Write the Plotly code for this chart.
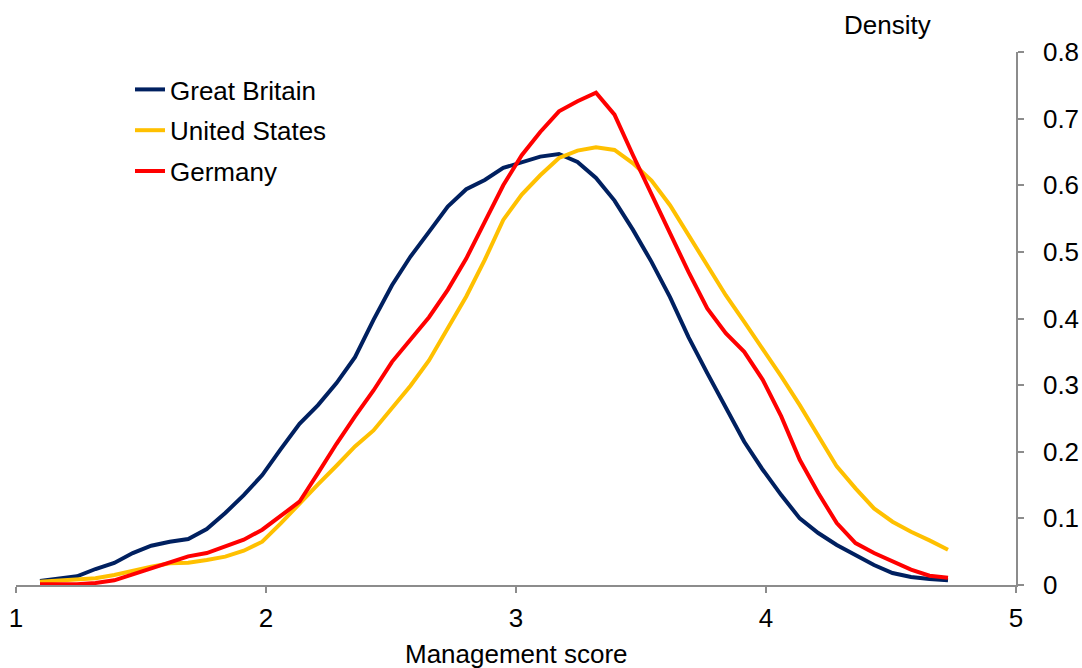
import plotly.graph_objects as go

x_scores = [1.096, 1.170, 1.244, 1.318, 1.393, 1.467, 1.541, 1.615, 1.689, 1.763,
            1.837, 1.911, 1.985, 2.059, 2.134, 2.208, 2.282, 2.356, 2.430, 2.504,
            2.578, 2.652, 2.727, 2.801, 2.875, 2.949, 3.023, 3.097, 3.172, 3.246,
            3.320, 3.394, 3.468, 3.542, 3.616, 3.690, 3.765, 3.839, 3.913, 3.987,
            4.061, 4.135, 4.209, 4.283, 4.358, 4.432, 4.506, 4.580, 4.654, 4.728]

great_britain = [0.006, 0.009, 0.013, 0.024, 0.033, 0.048, 0.059, 0.065, 0.069, 0.084,
                 0.108, 0.135, 0.165, 0.204, 0.242, 0.270, 0.303, 0.342, 0.398, 0.450,
                 0.493, 0.530, 0.568, 0.594, 0.608, 0.626, 0.635, 0.643, 0.647, 0.635,
                 0.611, 0.577, 0.533, 0.485, 0.432, 0.372, 0.318, 0.268, 0.215, 0.173,
                 0.135, 0.100, 0.078, 0.060, 0.045, 0.030, 0.018, 0.012, 0.009, 0.007]

united_states = [0.005, 0.0065, 0.0075, 0.010, 0.015, 0.0215, 0.0275, 0.0325, 0.0335, 0.0375,
                 0.0425, 0.0515, 0.065, 0.0925, 0.1225, 0.151, 0.179, 0.208, 0.232, 0.265,
                 0.299, 0.337, 0.385, 0.433, 0.488, 0.548, 0.586, 0.615, 0.641, 0.652,
                 0.657, 0.653, 0.633, 0.607, 0.570, 0.525, 0.482, 0.435, 0.395, 0.355,
                 0.313, 0.270, 0.223, 0.178, 0.145, 0.115, 0.095, 0.080, 0.067, 0.053]

germany = [0.001, 0.0005, 0.001, 0.003, 0.007, 0.016, 0.025, 0.034, 0.043, 0.048,
           0.058, 0.068, 0.083, 0.103, 0.125, 0.168, 0.212, 0.253, 0.292, 0.335,
           0.368, 0.402, 0.443, 0.490, 0.545, 0.600, 0.645, 0.680, 0.711, 0.726,
           0.739, 0.706, 0.645, 0.585, 0.528, 0.470, 0.415, 0.378, 0.350, 0.308,
           0.253, 0.188, 0.138, 0.093, 0.063, 0.048, 0.035, 0.023, 0.014, 0.011]

series_names = ["Great Britain", "United States", "Germany"]
series_colors = ["#002060", "#FFC000", "#FF0000"]
x_ticks = [1, 2, 3, 4, 5]
y_ticks = [0, 0.1, 0.2, 0.3, 0.4, 0.5, 0.6, 0.7, 0.8]
y_tick_labels = ["0", "0.1", "0.2", "0.3", "0.4", "0.5", "0.6", "0.7", "0.8"]

FONT = "Liberation Sans, Arial, sans-serif"
FS = 26

W, H = 1082, 668
L, T = 16, 52
PW, PH = 1000, 533

fig = go.Figure()
for name, ys, col in zip(series_names, [great_britain, united_states, germany], series_colors):
    fig.add_trace(go.Scatter(x=x_scores, y=ys, mode="lines", name=name,
                             legendgroup=name,
                             line=dict(color=col, width=4)))

def px_to_paper_x(px):
    return (px - L) / PW

def px_to_paper_y(py):
    return (T + PH - py) / PH

fig.update_layout(
    width=W, height=H,
    margin=dict(l=L, r=W - L - PW, t=T, b=H - T - PH, autoexpand=False),
    paper_bgcolor="white", plot_bgcolor="white",
    font=dict(family=FONT, size=FS, color="#000000"),
    showlegend=True,
    legend=dict(x=px_to_paper_x(130), y=px_to_paper_y(66), xanchor="left", yanchor="top",
                font=dict(family=FONT, size=FS, color="#000000"),
                bgcolor="rgba(0,0,0,0)", traceorder="grouped",
                tracegroupgap=4, itemwidth=30),
    xaxis=dict(range=[1, 5], tickvals=x_ticks, ticktext=[str(t) for t in x_ticks],
               automargin=False, ticklabelstandoff=3,
               showgrid=False, zeroline=False, showline=True, linecolor="#8C8C8C",
               linewidth=1.5, ticks="outside", ticklen=6, tickcolor="#8C8C8C",
               tickwidth=1.5, tickfont=dict(family=FONT, size=FS, color="#000000")),
    yaxis=dict(range=[0, 0.8], side="right", tickvals=y_ticks, ticktext=y_tick_labels,
               automargin=False,
               showgrid=False, zeroline=False, showline=True, linecolor="#8C8C8C",
               linewidth=1.5, ticks="outside", ticklen=6, tickcolor="#8C8C8C",
               tickwidth=1.5, ticklabelstandoff=14,
               tickfont=dict(family=FONT, size=FS, color="#000000")),
    annotations=[
        dict(text="Density", x=px_to_paper_x(887), y=px_to_paper_y(25),
             xref="paper", yref="paper", showarrow=False,
             xanchor="center", yanchor="middle",
             font=dict(family=FONT, size=FS, color="#000000")),
        dict(text="Management score", x=3, y=px_to_paper_y(654), xref="x", yref="paper",
             showarrow=False, xanchor="center", yanchor="middle",
             font=dict(family=FONT, size=FS, color="#000000")),
    ],
)

# remove the default 8px body margin so the figure fills the window exactly
fig.write_html("out.html",
               config={"displayModeBar": False},
               post_script="document.body.style.margin='0';document.body.style.overflow='hidden';")
